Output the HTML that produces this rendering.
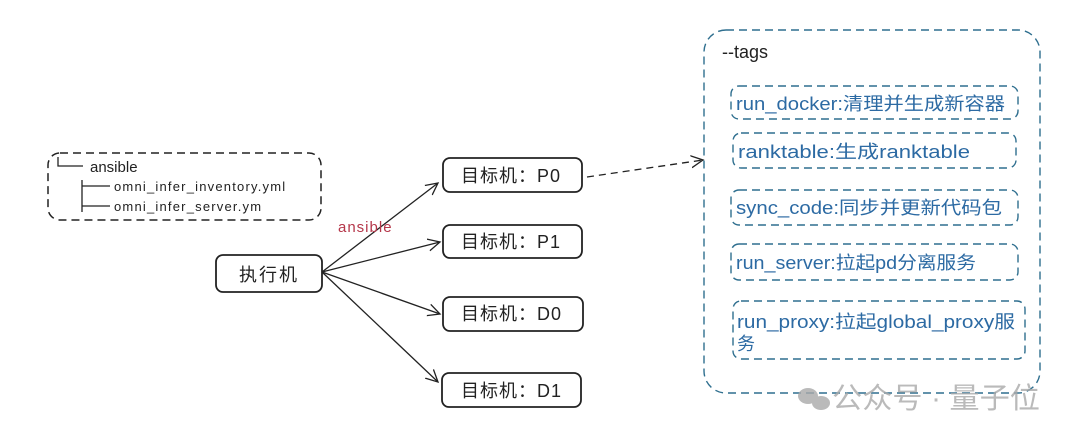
<!DOCTYPE html>
<html><head><meta charset="utf-8"><style>
html,body{margin:0;padding:0;background:#fff;width:1080px;height:437px;overflow:hidden}
text{font-family:"Liberation Sans","Noto Sans CJK SC",sans-serif}
</style></head><body>
<svg width="1080" height="437" xmlns="http://www.w3.org/2000/svg">
<defs>
<marker id="ah" markerWidth="14" markerHeight="14" refX="12" refY="7" orient="auto" markerUnits="userSpaceOnUse">
<path d="M0,1 L12,7 L0,13" fill="none" stroke="#222" stroke-width="1.3"/>
</marker>
</defs>
<rect x="48" y="153" width="273" height="67" rx="12" fill="none" stroke="#222" stroke-width="1.5" stroke-dasharray="8,5"/>
<path d="M58,157 V166 H83" fill="none" stroke="#222" stroke-width="1.3"/>
<text x="90" y="172" font-size="15" fill="#222">ansible</text>
<path d="M82,180 V212 M82,186 H110 M82,206 H110" fill="none" stroke="#222" stroke-width="1.3"/>
<text x="114" y="191" font-size="13" letter-spacing="1.2" fill="#222">omni_infer_inventory.yml</text>
<text x="114" y="211" font-size="13" letter-spacing="1.2" fill="#222">omni_infer_server.ym</text>

<rect x="216" y="255" width="106" height="37" rx="7" fill="#fff" stroke="#222" stroke-width="1.8"/>
<text x="269" y="281" font-size="18" letter-spacing="2" text-anchor="middle" fill="#222">执行机</text>

<g fill="#fff" stroke="#222" stroke-width="1.8">
<rect x="443" y="158" width="139" height="34" rx="7"/>
<rect x="443" y="225" width="139" height="33" rx="7"/>
<rect x="443" y="297" width="140" height="34" rx="7"/>
<rect x="442" y="373" width="139" height="34" rx="7"/>
</g>
<g font-size="18" fill="#222" letter-spacing="1">
<text x="461" y="182">目标机：P0</text>
<text x="461" y="248">目标机：P1</text>
<text x="461" y="320">目标机：D0</text>
<text x="461" y="397">目标机：D1</text>
</g>
<g stroke="#222" stroke-width="1.3" fill="none" marker-end="url(#ah)">
<line x1="322" y1="272" x2="438" y2="183"/>
<line x1="322" y1="272" x2="440" y2="242"/>
<line x1="322" y1="272" x2="440" y2="314"/>
<line x1="322" y1="272" x2="438" y2="382"/>
<line x1="587" y1="177" x2="703" y2="160" stroke-dasharray="7,5"/>
</g>
<text x="338" y="232" font-size="15" letter-spacing="1" fill="#b5374a">ansible</text>

<rect x="704" y="30" width="336" height="363" rx="22" fill="none" stroke="#2f6f8f" stroke-width="1.4" stroke-dasharray="8,5"/>
<text x="722" y="58" font-size="18" fill="#222">--tags</text>
<g fill="none" stroke="#2f6f8f" stroke-width="1.4" stroke-dasharray="8,5">
<rect x="731" y="86" width="287" height="33" rx="8"/>
<rect x="733" y="133" width="283" height="35" rx="8"/>
<rect x="731" y="190" width="287" height="35" rx="8"/>
<rect x="731" y="244" width="287" height="36" rx="8"/>
<rect x="733" y="301" width="292" height="58" rx="8"/>
</g>
<g font-size="18" fill="#2c6aa3">
<text x="736" y="110" textLength="269" lengthAdjust="spacingAndGlyphs">run_docker:清理并生成新容器</text>
<text x="738" y="158" textLength="232" lengthAdjust="spacingAndGlyphs">ranktable:生成ranktable</text>
<text x="736" y="214" textLength="266" lengthAdjust="spacingAndGlyphs">sync_code:同步并更新代码包</text>
<text x="736" y="269" textLength="240" lengthAdjust="spacingAndGlyphs">run_server:拉起pd分离服务</text>
<text x="737" y="328" textLength="278" lengthAdjust="spacingAndGlyphs">run_proxy:拉起global_proxy服</text>
<text x="737" y="350">务</text>
</g>
<g fill="#aaa" opacity="0.8">
<ellipse cx="808" cy="396" rx="10" ry="8"/>
<ellipse cx="821" cy="403" rx="9" ry="7"/>
<text x="832" y="408" font-size="29" textLength="208" lengthAdjust="spacingAndGlyphs" fill="#aaa">公众号 · 量子位</text>
</g>
</svg>
</body></html>
